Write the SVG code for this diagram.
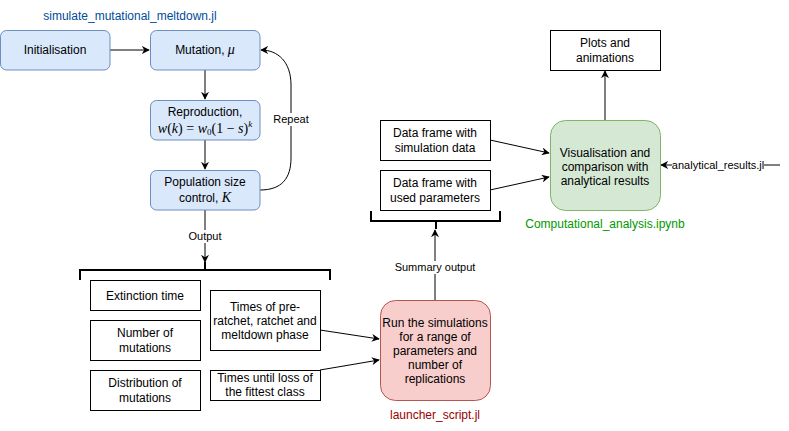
<svg xmlns="http://www.w3.org/2000/svg" width="789" height="431" viewBox="0 0 789 431">
<style>
text{font-family:"Liberation Sans",Arial,sans-serif;font-size:12px;fill:#000;text-anchor:middle}
.lbl{font-size:11px}
.blue{fill:#dae8fc;stroke:#6c8ebf;stroke-width:1}
.red{fill:#f8cecc;stroke:#b85450;stroke-width:1}
.green{fill:#d5e8d4;stroke:#82b366;stroke-width:1}
.plain{fill:#fff;stroke:#000;stroke-width:1}
.edge{fill:none;stroke:#000;stroke-width:1}
.br{fill:none;stroke:#000;stroke-width:2}
.m{font-family:"Liberation Serif","DejaVu Serif",serif;font-style:italic;font-size:14px}
.mr{font-family:"Liberation Serif","DejaVu Serif",serif;font-size:14px}
.sup{font-family:"Liberation Serif","DejaVu Serif",serif;font-style:italic;font-size:9px}
</style>
<defs>
<marker id="arr" viewBox="0 0 10 10" refX="9" refY="5" markerWidth="8" markerHeight="8" markerUnits="userSpaceOnUse" orient="auto">
<path d="M0,0 L10,5 L0,10 L3,5 z" fill="#000"/>
</marker>
</defs>
<text x="130" y="20" style="fill:#004c99">simulate_mutational_meltdown.jl</text>
<text x="605" y="228" style="fill:#009900">Computational_analysis.ipynb</text>
<text x="435" y="419" style="fill:#990000">launcher_script.jl</text>
<g id="connectors">
<path class="edge" d="M110,50 L149,50" marker-end="url(#arr)"/>
<path class="edge" d="M205,70 L205,99" marker-end="url(#arr)"/>
<path class="edge" d="M205,140 L205,169" marker-end="url(#arr)"/>
<path class="edge" d="M260,190 C282,190 291,178 291,158 L291,85 C291,62 278,50 261,50" marker-end="url(#arr)"/>
<rect x="273" y="113" width="36" height="13" fill="#fff"/>
<text class="lbl" x="291" y="123">Repeat</text>
<path class="edge" d="M205,210 L205,262" marker-end="url(#arr)"/>
<rect x="188" y="230" width="34" height="13" fill="#fff"/>
<text class="lbl" x="205" y="240">Output</text>
<path class="edge" d="M320,330 L379,339" marker-end="url(#arr)"/>
<path class="edge" d="M320,370 L379,360" marker-end="url(#arr)"/>
<path class="edge" d="M435,300 L435,230" marker-end="url(#arr)"/>
<rect x="394" y="261" width="82" height="13" fill="#fff"/>
<text class="lbl" x="435" y="271">Summary output</text>
<path class="edge" d="M780,165 L661,165" marker-end="url(#arr)"/>
<rect x="672" y="158" width="92" height="13" fill="#fff"/>
<text class="lbl" x="718" y="169">analytical_results.jl</text>
<path class="edge" d="M490,140 L549,153" marker-end="url(#arr)"/>
<path class="edge" d="M490,190 L549,177" marker-end="url(#arr)"/>
<path class="edge" d="M605,120 L605,71" marker-end="url(#arr)"/>
</g>
<g id="bracket-output">
<path class="br" d="M80,280 L80,270 L330,270 L330,280 M205,270 L205,262"/>
</g>
<g id="bracket-summary">
<path class="br" d="M371,211 L371,221 L500,221 L500,211 M436,221 L436,229"/>
</g>
<g id="initialisation">
<rect class="blue" x="0.5" y="30.5" width="109.5" height="39.5" rx="6"/>
<text x="55" y="54">Initialisation</text>
</g>
<g id="mutation">
<rect class="blue" x="150.5" y="30.5" width="109.5" height="39.5" rx="6"/>
<text x="205" y="54">Mutation, <tspan class="m">μ</tspan></text>
</g>
<g id="reproduction">
<rect class="blue" x="150.5" y="100.5" width="109.5" height="39.5" rx="6"/>
<text x="205" y="116">Reproduction,</text>
<text x="205" y="133" class="mr"><tspan class="m">w</tspan>(<tspan class="m">k</tspan>) = <tspan class="m">w</tspan><tspan style="font-size:9px" dy="2">0</tspan><tspan dy="-2">(1 − </tspan><tspan class="m">s</tspan><tspan>)</tspan><tspan class="sup" dy="-6">k</tspan></text>
</g>
<g id="population">
<rect class="blue" x="150.5" y="170.5" width="109.5" height="39.5" rx="6"/>
<text x="205" y="186">Population size</text>
<text x="205" y="202">control, <tspan class="m">K</tspan></text>
</g>
<g id="extinction">
<rect class="plain" x="90.5" y="280.5" width="110" height="30"/>
<text x="145" y="300">Extinction time</text>
</g>
<g id="number">
<rect class="plain" x="90.5" y="320.5" width="110" height="40"/>
<text x="145" y="337">Number of</text>
<text x="145" y="352">mutations</text>
</g>
<g id="distribution">
<rect class="plain" x="90.5" y="370.5" width="110" height="40"/>
<text x="145" y="387">Distribution of</text>
<text x="145" y="402">mutations</text>
</g>
<g id="times-phases">
<rect class="plain" x="210.5" y="290.5" width="110" height="60"/>
<text x="265" y="311">Times of pre-</text>
<text x="265" y="325">ratchet, ratchet and</text>
<text x="265" y="339">meltdown phase</text>
</g>
<g id="times-loss">
<rect class="plain" x="210.5" y="370.5" width="110" height="30"/>
<text x="265" y="382">Times until loss of</text>
<text x="265" y="396">the fittest class</text>
</g>
<g id="run-simulations">
<rect class="red" x="380.5" y="300.5" width="110" height="100" rx="15"/>
<text x="435" y="327">Run the simulations</text>
<text x="435" y="341">for a range of</text>
<text x="435" y="355">parameters and</text>
<text x="435" y="369">number of</text>
<text x="435" y="383">replications</text>
</g>
<g id="df-sim">
<rect class="plain" x="380.5" y="120.5" width="110" height="40"/>
<text x="435" y="137">Data frame with</text>
<text x="435" y="152">simulation data</text>
</g>
<g id="df-params">
<rect class="plain" x="380.5" y="170.5" width="110" height="40"/>
<text x="435" y="187">Data frame with</text>
<text x="435" y="202">used parameters</text>
</g>
<g id="visualisation">
<rect class="green" x="550.5" y="120.5" width="110" height="90" rx="15"/>
<text x="605" y="157">Visualisation and</text>
<text x="605" y="171">comparison with</text>
<text x="605" y="185">analytical results</text>
</g>
<g id="plots">
<rect class="plain" x="550.5" y="30.5" width="110" height="40"/>
<text x="605" y="47">Plots and</text>
<text x="605" y="62">animations</text>
</g>
</svg>
